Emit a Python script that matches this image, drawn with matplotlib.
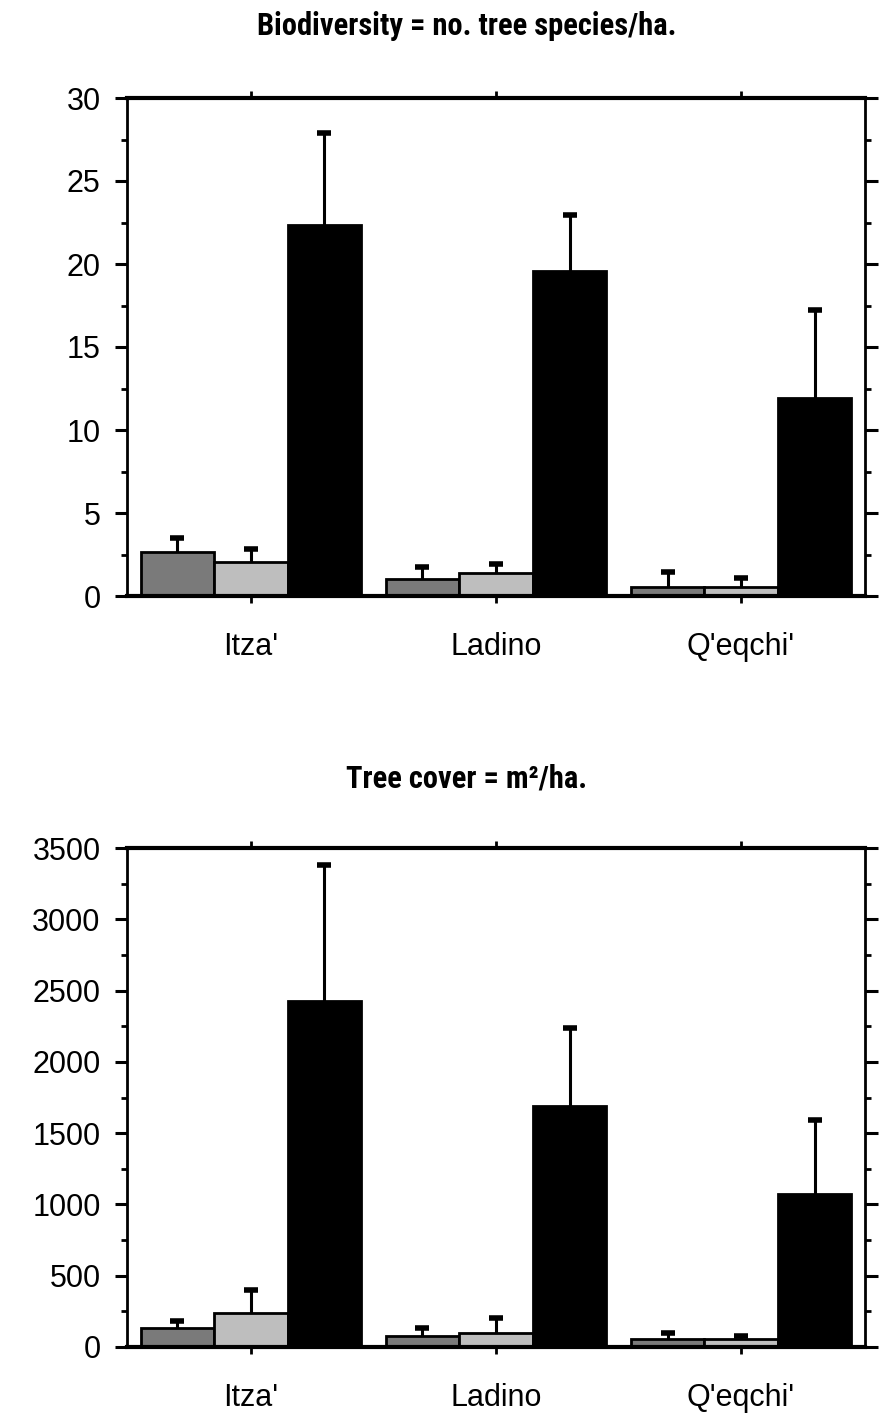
import numpy as np
import matplotlib
matplotlib.use("Agg")
import matplotlib.pyplot as plt
from matplotlib import font_manager
from matplotlib.ticker import MultipleLocator

# data
groups = ["Itza'", "Ladino", "Q'eqchi'"]

bio_dark = [2.65, 1.05, 0.55]
bio_dark_err = [0.85, 0.7, 0.9]
bio_light = [2.05, 1.4, 0.55]
bio_light_err = [0.8, 0.5, 0.55]
bio_black = [22.35, 19.6, 11.9]
bio_black_err = [5.55, 3.35, 5.3]

cover_dark = [133, 77, 59]
cover_dark_err = [49, 56, 39]
cover_light = [240, 98, 55]
cover_light_err = [160, 105, 22]
cover_black = [2428, 1690, 1073]
cover_black_err = [956, 547, 519]

plt.rcParams['font.family'] = ['Liberation Sans', 'DejaVu Sans']


# look for a narrow bold face for the titles
def narrow_font():
    for fam in ['Liberation Sans Narrow', 'Roboto Condensed', 'Open Sans Condensed',
                'Noto Sans', 'DejaVu Sans']:
        try:
            path = font_manager.findfont(
                font_manager.FontProperties(family=fam, weight='bold', stretch='condensed'),
                fallback_to_default=False)
        except Exception:
            continue
        name = path.lower()
        if 'narrow' in name or 'condensed' in name:
            return font_manager.FontProperties(fname=path), True
    return font_manager.FontProperties(family='Liberation Sans', weight='bold'), False


tprop, is_narrow = narrow_font()

W, H = 883, 1426
fig = plt.figure(figsize=(W / 100, H / 100), dpi=100)


def panel(rect, series, ymax, major, minor):
    ax = fig.add_axes(rect)
    x = np.arange(len(groups))
    w = 0.3
    colors = ['#7a7a7a', '#bebebe', '#000000']
    for k, (vals, errs) in enumerate(series):
        pos = x + (k - 1) * w
        ax.bar(pos, vals, w, color=colors[k], edgecolor='black', linewidth=2, zorder=2)
        eb = ax.errorbar(pos, vals, yerr=[np.zeros(len(errs)), errs], fmt='none',
                         ecolor='black', elinewidth=2.2, capsize=5, capthick=4, zorder=3)
        eb.lines[1][0].set_visible(False)  # only the upper cap
    ax.set_xlim(-0.506, 2.506)
    ax.set_ylim(0, ymax)
    ax.yaxis.set_major_locator(MultipleLocator(major))
    ax.yaxis.set_minor_locator(MultipleLocator(minor))
    ax.set_xticks(x)
    ax.set_xticklabels(groups)
    ax.tick_params(axis='y', which='major', direction='out', length=9, width=2.2,
                   labelsize=22, pad=10, right=True)
    ax.tick_params(axis='y', which='minor', direction='out', length=4, width=2, right=True)
    ax.tick_params(axis='x', direction='out', length=5, width=2, top=True,
                   labelsize=22, pad=21)
    for s in ['left', 'right']:
        ax.spines[s].set_linewidth(2)
    for s in ['top', 'bottom']:
        ax.spines[s].set_linewidth(3)
    return ax


panel([127 / W, 1 - 596 / H, 738 / W, 498 / H],
      [(bio_dark, bio_dark_err), (bio_light, bio_light_err), (bio_black, bio_black_err)],
      30, 5, 2.5)
panel([127 / W, 1 - 1347 / H, 738 / W, 499 / H],
      [(cover_dark, cover_dark_err), (cover_light, cover_light_err), (cover_black, cover_black_err)],
      3500, 500, 250)

tsize = 22 if is_narrow else 19
tprop.set_size(tsize)
tprop.set_weight('bold')
fig.text(467 / W, 1 - 26 / H, "Biodiversity = no. tree species/ha.",
         fontproperties=tprop, ha='center', va='center')
fig.text(467 / W, 1 - 778 / H, "Tree cover = m²/ha.",
         fontproperties=tprop, ha='center', va='center')

fig.savefig("out.png", dpi=100)
